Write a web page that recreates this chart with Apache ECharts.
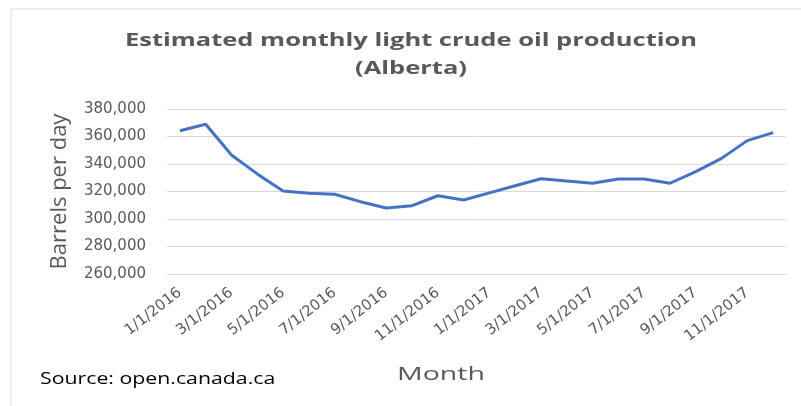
<!DOCTYPE html>
<html>
<head>
<meta charset="utf-8">
<script src="https://cdn.jsdelivr.net/npm/echarts@6/dist/echarts.min.js"></script>
<style>
  html, body { margin: 0; padding: 0; background: #fff; }
  #main { width: 801px; height: 406px; }
</style>
</head>
<body>
<div id="main"></div>
<script>
// months 1/1/2016 .. 12/1/2017
var months = [];
for (var y = 2016; y <= 2017; y++) {
    for (var m = 1; m <= 12; m++) {
        months.push(m + '/1/' + y);
    }
}

// barrels per day
var production = [
    364200, 368900, 346600, 332800, 320400, 318700, 318000, 312600, 308000, 309700, 316900, 313800,
    319000, 324200, 329300, 327600, 326000, 329100, 329100, 326000, 334400, 344100, 357000, 362800
];

var gray = '#595959';

var dom = document.getElementById('main');
var myChart = echarts.init(dom);

var option = {
    animation: false,
    grid: {left: 167, right: 15, top: 109, bottom: 132},
    xAxis: {
        type: 'category',
        data: months,
        boundaryGap: true,
        axisLine: {lineStyle: {color: '#d9d9d9'}},
        axisTick: {interval: 1, length: 5, lineStyle: {color: '#d9d9d9'}},
        axisLabel: {
            interval: 1,
            rotate: 38,
            fontFamily: 'DejaVu Sans',
            fontSize: 15,
            color: gray,
            margin: 17
        }
    },
    yAxis: {
        type: 'value',
        min: 260000,
        max: 380000,
        interval: 20000,
        name: 'Barrels per day',
        nameLocation: 'middle',
        nameGap: 96,
        nameTextStyle: {fontFamily: 'Open Sans', fontSize: 22, color: gray},
        axisLabel: {
            fontFamily: 'DejaVu Sans',
            fontSize: 15,
            color: gray,
            margin: 21,
            formatter: function (v) {
                return v.toLocaleString('en-US');
            }
        },
        splitLine: {lineStyle: {color: '#d9d9d9'}},
        axisLine: {show: false},
        axisTick: {show: false}
    },
    graphic: [
        {type: 'line', shape: {x1: 11, y1: 9, x2: 801, y2: 9}, style: {stroke: '#d9d9d9', lineWidth: 1}},
        {type: 'line', shape: {x1: 11, y1: 9, x2: 11, y2: 406}, style: {stroke: '#d9d9d9', lineWidth: 1}},
        {
            type: 'text', x: 411, y: 41, scaleX: 1.5,
            style: {
                text: 'Estimated monthly light crude oil production',
                align: 'center', verticalAlign: 'middle',
                fontFamily: 'Open Sans', fontWeight: 'bold', fontSize: 17, fill: gray
            }
        },
        {
            type: 'text', x: 411, y: 69, scaleX: 1.5,
            style: {
                text: '(Alberta)',
                align: 'center', verticalAlign: 'middle',
                fontFamily: 'Open Sans', fontWeight: 'bold', fontSize: 17, fill: gray
            }
        },
        {
            type: 'text', x: 441, y: 375, scaleX: 1.5,
            style: {
                text: 'Month',
                align: 'center', verticalAlign: 'middle',
                fontFamily: 'Open Sans', fontSize: 19, fill: gray
            }
        },
        {
            type: 'text', x: 40, y: 379, scaleX: 1.33,
            style: {
                text: 'Source: open.canada.ca',
                align: 'left', verticalAlign: 'middle',
                fontFamily: 'Open Sans', fontSize: 16, fill: '#000'
            }
        }
    ],
    series: [{
        type: 'line',
        data: production,
        symbol: 'none',
        lineStyle: {color: '#4472c4', width: 3}
    }]
};

myChart.setOption(option);
</script>
</body>
</html>
